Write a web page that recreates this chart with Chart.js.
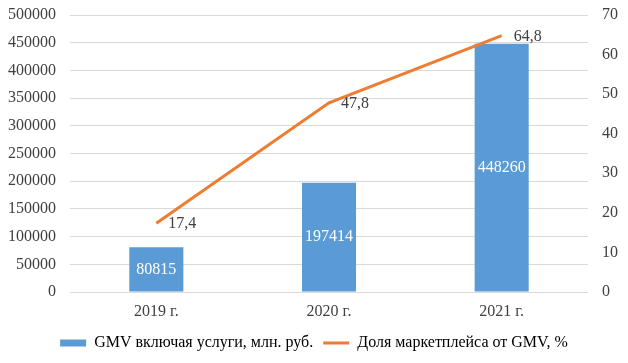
<!DOCTYPE html>
<html>
<head>
<meta charset="utf-8">
<script src="https://cdn.jsdelivr.net/npm/chart.js@4/dist/chart.umd.min.js"></script>
<style>
  html, body { margin: 0; padding: 0; background: #fff; }
  #wrap { width: 628px; height: 363px; }
</style>
</head>
<body>
<div id="wrap"><canvas id="chart" width="628" height="363"></canvas></div>
<script>
// --- Datos ---
const years = ['2019 г.', '2020 г.', '2021 г.'];
const gmvValues = [80815, 197414, 448260];
const shareValues = [17.4, 47.8, 64.8];
const gmvLabel = 'GMV включая услуги, млн. руб.';
const shareLabel = 'Доля маркетплейса от GMV, %';

const BLUE = '#5B9BD5';
const ORANGE = '#ED7D31';
const TEXT = '#404040';
const FONT = { family: '"Liberation Serif", "Times New Roman", serif', size: 16 };

Chart.defaults.font.family = FONT.family;
Chart.defaults.font.size = FONT.size;
Chart.defaults.color = TEXT;

// etiquetas de valores sobre barras y puntos
const valueLabels = {
    id: 'valueLabels',
    afterDatasetsDraw(chart) {
        const ctx = chart.ctx;
        ctx.save();
        ctx.font = `${FONT.size}px ${FONT.family}`;
        ctx.textBaseline = 'middle';

        chart.getDatasetMeta(0).data.forEach((bar, i) => {
            ctx.fillStyle = '#ffffff';
            ctx.textAlign = 'center';
            ctx.fillText(String(gmvValues[i]), bar.x, (bar.y + bar.base) / 2);
        });

        chart.getDatasetMeta(1).data.forEach((pt, i) => {
            ctx.fillStyle = TEXT;
            ctx.textAlign = 'left';
            ctx.fillText(String(shareValues[i]).replace('.', ','), pt.x + 12, pt.y + 1);
        });
        ctx.restore();
    }
};

// ancho fijo de ejes, sin relleno extra arriba/abajo
const fixY = (w) => (s) => { s.width = w; s.paddingTop = 0; s.paddingBottom = 0; };

new Chart(document.getElementById('chart'), {
    data: {
        labels: years,
        datasets: [
            {
                type: 'bar',
                label: gmvLabel,
                data: gmvValues,
                backgroundColor: BLUE,
                yAxisID: 'y',
                barPercentage: 0.313,
                categoryPercentage: 1,
                order: 2
            },
            {
                type: 'line',
                label: shareLabel,
                data: shareValues,
                borderColor: ORANGE,
                backgroundColor: ORANGE,
                borderWidth: 3,
                pointRadius: 0,
                tension: 0,
                yAxisID: 'y1',
                order: 1
            }
        ]
    },
    options: {
        responsive: false,
        animation: false,
        layout: { padding: { top: 15, left: 0, right: 0, bottom: 2 } },
        scales: {
            x: {
                grid: { display: false, drawTicks: false },
                border: { display: false },
                ticks: { padding: 10, color: TEXT },
                afterFit: (s) => { s.height = 33; s.paddingLeft = 0; s.paddingRight = 0; }
            },
            y: {
                position: 'left',
                min: 0, max: 500000,
                ticks: { stepSize: 50000, padding: 14, color: TEXT, callback: (v) => String(v) },
                grid: { color: '#d9d9d9', drawTicks: false },
                border: { display: false },
                afterFit: fixY(70)
            },
            y1: {
                position: 'right',
                min: 0, max: 70,
                ticks: { stepSize: 10, padding: 14, color: TEXT, callback: (v) => String(v) },
                grid: { display: false, drawTicks: false },
                border: { display: false },
                afterFit: fixY(40)
            }
        },
        plugins: {
            legend: {
                position: 'bottom',
                labels: {
                    usePointStyle: true,
                    pointStyleWidth: 26,
                    boxHeight: 7,
                    padding: 10,
                    color: TEXT,
                    generateLabels: (chart) => chart.data.datasets.map((ds, i) => ({
                        text: ds.label,
                        fillStyle: ds.type === 'bar' ? BLUE : ORANGE,
                        strokeStyle: ORANGE,
                        lineWidth: ds.type === 'bar' ? 0 : 3,
                        pointStyle: ds.type === 'bar' ? 'rect' : 'line',
                        datasetIndex: i,
                        hidden: false
                    }))
                }
            },
            tooltip: { enabled: false }
        }
    },
    plugins: [valueLabels]
});
</script>
</body>
</html>
